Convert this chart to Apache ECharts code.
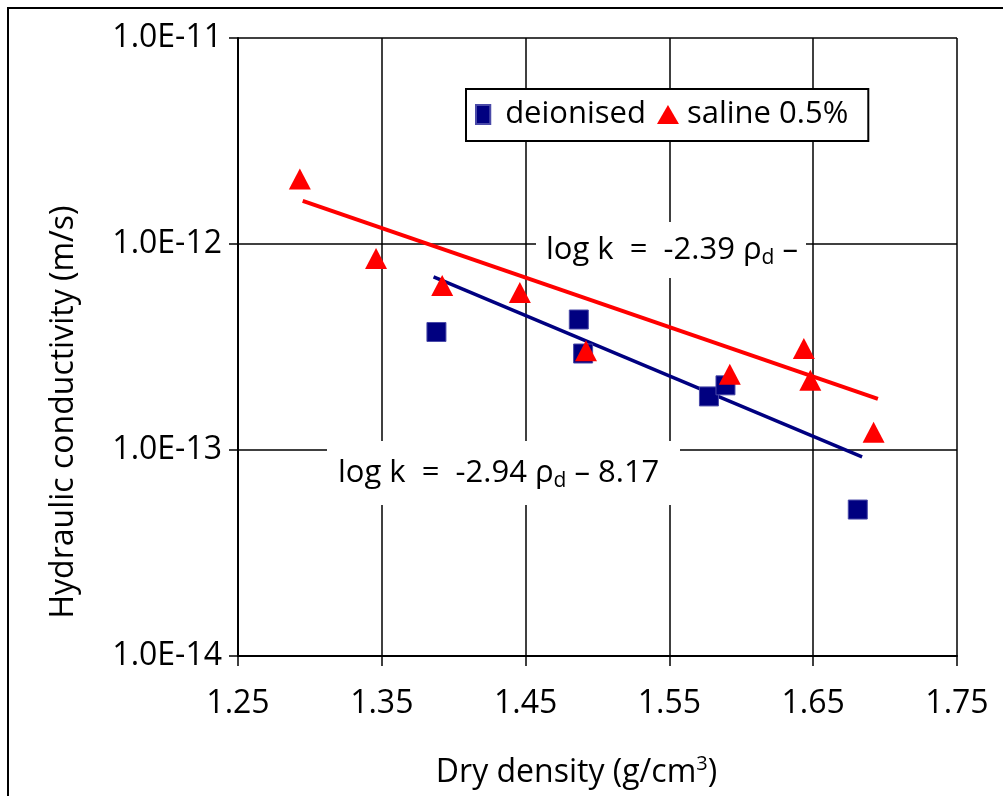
<!DOCTYPE html>
<html>
<head>
<meta charset="utf-8">
<script src="https://cdn.jsdelivr.net/npm/echarts@6/dist/echarts.min.js"></script>
<style>
html,body{margin:0;padding:0;background:#fff;}
#chart{width:1003px;height:796px;}
</style>
</head>
<body>
<div id="chart"></div>
<script>
// ---- data ----
const xTickValues = [1.25, 1.35, 1.45, 1.55, 1.65, 1.75];
const yTickExponents = [-14, -13, -12, -11];

const deionisedDensity = [1.388, 1.487, 1.490, 1.5775, 1.589, 1.681];
const deionisedK = [3.74e-13, 4.30e-13, 2.94e-13, 1.82e-13, 2.06e-13, 5.14e-14];

const salineDensity = [1.293, 1.346, 1.392, 1.446, 1.492, 1.592, 1.6435, 1.648, 1.692];
const salineK = [2.07e-12, 8.51e-13, 6.29e-13, 5.81e-13, 3.03e-13, 2.33e-13, 3.11e-13, 2.18e-13, 1.22e-13];

const deionisedTrendX = [1.386, 1.684];
const deionisedTrendK = [6.92e-13, 9.25e-14];
const salineTrendX = [1.295, 1.695];
const salineTrendK = [1.62e-12, 1.77e-13];

const seriesNames = ['deionised', 'saline 0.5%'];
const eqSaline = 'log k  =  -2.39 ';
const eqDeionised = 'log k  =  -2.94 ';

// ---- build ----
const FONT = 'Open Sans';
const zip = (xs, ys) => xs.map((x, i) => [x, ys[i]]);

const chart = echarts.init(document.getElementById('chart'), null, {renderer: 'canvas'});

const eqRich = {
  a: {fontFamily: FONT, fontSize: 31, fill: '#000', lineHeight: 38},
  s: {fontFamily: FONT, fontSize: 21, fill: '#000', lineHeight: 22, verticalAlign: 'bottom'}
};

const option = {
  backgroundColor: '#fff',
  animation: false,
  textStyle: {fontFamily: FONT, color: '#000'},
  grid: {left: 238, right: 46, top: 38, bottom: 140, containLabel: false},
  legend: {
    left: 466, top: 89,
    orient: 'horizontal',
    backgroundColor: '#fff',
    borderColor: '#000', borderWidth: 2, borderRadius: 0,
    padding: [10, 20, 11, 9],
    itemWidth: 22, itemHeight: 19, itemGap: 11,
    symbolKeepAspect: true,
    textStyle: {fontFamily: FONT, fontSize: 31, color: '#000'},
    data: [
      {name: seriesNames[0], icon: 'path://M0,0L12,0L12,16L0,16Z',
       textStyle: {fontFamily: FONT, fontSize: 31, color: '#000', padding: [0, 0, 0, 6]}},
      {name: seriesNames[1], icon: 'path://M11,0L22,19L0,19Z',
       textStyle: {fontFamily: FONT, fontSize: 31, color: '#000', padding: [0, 0, 0, 3]}}
    ]
  },
  xAxis: {
    type: 'value', min: 1.25, max: 1.75, interval: 0.1,
    name: '{a|Dry density (g/cm}{sup|3}{a|)}',
    nameLocation: 'middle', nameGap: 98,
    nameTextStyle: {
      padding: [0, 42, 0, 0],
      rich: {
        a: {fontFamily: FONT, fontSize: 32, color: '#000', lineHeight: 38},
        sup: {fontFamily: FONT, fontSize: 20, color: '#000', verticalAlign: 'top', lineHeight: 38, padding: [0, 0, 14, 0]}
      }
    },
    axisLine: {show: true, onZero: false, lineStyle: {color: '#000', width: 2}},
    axisTick: {show: true, inside: false, length: 10, lineStyle: {color: '#000', width: 1.5}},
    axisLabel: {
      margin: 32, fontFamily: FONT, fontSize: 32, color: '#000',
      formatter: v => {
        const m = xTickValues.find(t => Math.abs(t - v) < 1e-6);
        return (m !== undefined ? m : v).toFixed(2);
      }
    },
    splitLine: {show: true, lineStyle: {color: '#000', width: 1.5}}
  },
  yAxis: {
    type: 'log', logBase: 10, min: Math.pow(10, yTickExponents[0]), max: Math.pow(10, yTickExponents[yTickExponents.length - 1]),
    name: 'Hydraulic conductivity (m/s)',
    nameLocation: 'middle', nameGap: 158, nameRotate: 90,
    nameTextStyle: {fontFamily: FONT, fontSize: 32, color: '#000', padding: [0, 130, 0, 0]},
    axisLine: {show: true, lineStyle: {color: '#000', width: 2}},
    axisTick: {show: true, inside: false, length: 9, lineStyle: {color: '#000', width: 1.5}},
    axisLabel: {
      margin: 16, fontFamily: FONT, fontSize: 32, color: '#000',
      formatter: v => '1.0E' + Math.round(Math.log10(v))
    },
    splitLine: {show: true, lineStyle: {color: '#000', width: 1.5}},
    minorTick: {show: false}
  },
  graphic: [
    {type: 'rect', z: 100, silent: true, shape: {x: 8, y: 8, width: 1010, height: 800},
     style: {fill: 'none', stroke: '#000', lineWidth: 2}},
    {type: 'rect', z: 1, silent: true, shape: {x: 536, y: 222, width: 270, height: 56}, style: {fill: '#fff'}},
    {type: 'text', z: 1, silent: true, x: 546, y: 250,
     style: {text: '{a|' + eqSaline + 'ρ}{s|d}{a| –}', verticalAlign: 'middle', align: 'left', rich: eqRich}},
    {type: 'rect', z: 1, silent: true, shape: {x: 327, y: 441, width: 353, height: 64}, style: {fill: '#fff'}},
    {type: 'text', z: 1, silent: true, x: 338, y: 473,
     style: {text: '{a|' + eqDeionised + 'ρ}{s|d}{a| – 8.17}', verticalAlign: 'middle', align: 'left', rich: eqRich}}
  ],
  series: [
    {
      name: seriesNames[0], type: 'scatter', z: 4,
      symbol: 'rect', symbolSize: 19,
      itemStyle: {color: '#000080', borderColor: '#4a4aa8', borderWidth: 1, opacity: 1},
      data: zip(deionisedDensity, deionisedK)
    },
    {
      name: seriesNames[1], type: 'scatter', z: 5,
      symbol: 'triangle', symbolSize: [22, 21],
      itemStyle: {color: '#ff0000', opacity: 1},
      data: zip(salineDensity, salineK)
    },
    {
      name: 'deionised trend', type: 'line', z: 3, showSymbol: false, symbol: 'none',
      lineStyle: {color: '#000080', width: 3.5},
      data: zip(deionisedTrendX, deionisedTrendK)
    },
    {
      name: 'saline trend', type: 'line', z: 3, showSymbol: false, symbol: 'none',
      lineStyle: {color: '#ff0000', width: 4},
      data: zip(salineTrendX, salineTrendK)
    }
  ]
};
chart.setOption(option);
</script>
</body>
</html>
